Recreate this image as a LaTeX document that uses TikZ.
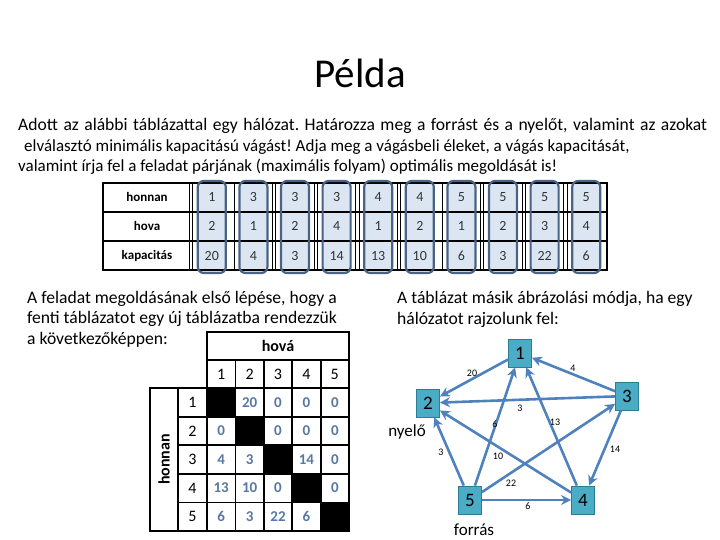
\documentclass[tikz,border=0pt]{standalone}
\usepackage{fontspec}
\setmainfont{Carlito}
\frenchspacing
\usetikzlibrary{arrows.meta}
\definecolor{cedge}{HTML}{4F81BD}
\definecolor{cnode}{HTML}{4BACC6}
\definecolor{cnodeb}{HTML}{2C7D93}
\definecolor{cbox}{HTML}{DCE6F2}
\definecolor{cboxb}{HTML}{4A6384}
\definecolor{cval}{HTML}{5878A3}
\definecolor{cnum}{HTML}{333333}

\begin{document}
\begin{tikzpicture}[x=1pt, y=-1pt,
  ptext/.style={anchor=base west, inner sep=0pt, font=\fontsize{17}{20}\selectfont},
  pside/.style={ptext, font=\fontsize{17.6}{20}\selectfont},
  thead/.style={font=\fontsize{13}{15}\selectfont\bfseries},
  tnum/.style={text=cnum, font=\fontsize{14}{16}\selectfont},
  mnum/.style={font=\fontsize{16}{18}\selectfont},
  mval/.style={text=cval, font=\fontsize{15}{17}\selectfont\bfseries},
  grid/.style={line width=1.8pt},
  gnode/.style={draw=cnodeb, fill=cnode, line width=0.8pt, minimum width=23pt,
    minimum height=28pt, inner sep=0pt, font=\fontsize{19}{21}\selectfont},
  edge/.style={cedge, line width=2.6pt, -{Stealth[length=10pt, width=10pt]}},
  elabel/.style={inner sep=0pt, font=\fontsize{10}{12}\selectfont}]
  \useasboundingbox (0,0) rectangle (720,540);

  % Title and task
  \node[font=\fontsize{41}{46}\selectfont] (title) at (360,73) {Példa};
  \node[ptext, font=\fontsize{17.6}{20}\selectfont] (q1) at (18,131) {\hbox to 689pt{Adott az alábbi táblázattal egy hálózat. Határozza meg a forrást és a nyelőt, valamint az azokat}};
  \node[ptext] (q2) at (24,152) {elválasztó minimális kapacitású vágást! Adja meg a vágásbeli éleket, a vágás kapacitását,};
  \node[ptext] (q3) at (18,172) {valamint írja fel a feladat párjának (maximális folyam) optimális megoldását is!};

  % Edge table
  \foreach \i in {1,...,10}
    \fill[cbox, rounded corners=6pt] ({191+41.6*(\i-0.5)-14},181) rectangle ++(28,92);
  \foreach \k in {0,...,9}
    \draw[line width=0.9pt, double distance=2.4pt] ({191+41.6*\k},183) -- ++(0,87);
  \draw[line width=1.2pt] (103,212) -- (607,212) (103,241) -- (607,241);
  \draw[line width=1.6pt] (103,183) rectangle (607,270);
  \foreach \i in {1,...,10}
    \draw[cboxb, line width=2.2pt, rounded corners=6pt] ({191+41.6*(\i-0.5)-14},181) rectangle ++(28,92);
  \node[thead] (rfrom) at (147,197) {honnan};
  \node[thead] (rto) at (147,226) {hova};
  \node[thead] (rcap) at (147,256) {kapacitás};
  \foreach \a/\b/\k [count=\i] in {1/2/20, 3/1/4, 3/2/3, 3/4/14, 4/1/13, 4/2/10, 5/1/6, 5/2/3, 5/3/22, 5/4/6}{
    \node[tnum] (a\i) at ({191+41.6*(\i-0.5)},197) {\a};
    \node[tnum] (b\i) at ({191+41.6*(\i-0.5)},226) {\b};
    \node[tnum] (k\i) at ({191+41.6*(\i-0.5)},256) {\k};
  }

  % Left text and matrix
  \node[pside] (l1) at (27,303) {A feladat megoldásának első lépése, hogy a};
  \node[pside] (l2) at (27,323) {fenti táblázatot egy új táblázatba rendezzük};
  \node[pside] (l3) at (27,344) {a következőképpen:};

  \foreach \r in {1,...,5}
    \fill ({207+28.4*(\r-1)},{388+28.6*(\r-1)}) rectangle ++(28.4,28.6);
  \draw[grid] (207,332) rectangle (349,388);
  \draw[grid] (207,360) -- (349,360);
  \draw[grid] (150,388) rectangle (349,531);
  \draw[grid] (178,388) -- (178,531) (207,388) -- (207,531);
  \foreach \k in {1,...,4}{
    \draw[grid] ({207+28.4*\k},360) -- ++(0,171);
    \draw[grid] (178,{388+28.6*\k}) -- (349,{388+28.6*\k});
  }
  \node[mnum, font=\fontsize{16}{18}\selectfont\bfseries] (hto) at (278,346) {hová};
  \node[mnum, font=\fontsize{16}{18}\selectfont\bfseries, rotate=90] (hfrom) at (164,459.5) {honnan};
  \foreach \c in {1,...,5}{
    \node[mnum] (h\c) at ({207+28.4*(\c-0.5)},374) {\c};
    \node[mnum] (r\c) at (192.5,{388+28.6*(\c-0.5)}) {\c};
  }
  \foreach \r/\c/\v in {1/2/20, 1/3/0, 1/4/0, 1/5/0,
                        2/1/0, 2/3/0, 2/4/0, 2/5/0,
                        3/1/4, 3/2/3, 3/4/14, 3/5/0,
                        4/1/13, 4/2/10, 4/3/0, 4/5/0,
                        5/1/6, 5/2/3, 5/3/22, 5/4/6}
    \node[mval] (m\r\c) at ({207+28.4*(\c-0.5)},{388+28.6*(\r-0.5)}) {\v};

  % Right text and network
  \node[pside] (g1) at (397,303) {A táblázat másik ábrázolási módja, ha egy};
  \node[pside] (g2) at (397,324) {hálózatot rajzolunk fel:};

  \node[gnode] (n1) at (520,353) {1};
  \node[gnode] (n2) at (428,403) {2};
  \node[gnode] (n3) at (627,396) {3};
  \node[gnode] (n4) at (583,500) {4};
  \node[gnode] (n5) at (470,500) {5};
  \node[font=\fontsize{17}{20}\selectfont] (sink) at (407,432) {nyelő};
  \node[font=\fontsize{17}{20}\selectfont] (source) at (474,530) {forrás};

  \draw[edge] (n1) -- (n2);
  \draw[edge] (n3) -- (n1);
  \draw[edge] (n3) -- (n2);
  \draw[edge] (n3) -- (n4);
  \draw[edge] (n4) -- (n1);
  \draw[edge] (n4) -- (n2);
  \draw[edge] (n5) -- (n1);
  \draw[edge] (n5) -- (n2);
  \draw[edge] (n5) -- (n3);
  \draw[edge] (n5) -- (n4);

  \node[elabel] (e12) at (472,373) {20};
  \node[elabel] (e31) at (573,368) {4};
  \node[elabel] (e32) at (520,408) {3};
  \node[elabel] (e34) at (615,449) {14};
  \node[elabel] (e41) at (555,422) {13};
  \node[elabel] (e42) at (498,456) {10};
  \node[elabel] (e51) at (495,424) {6};
  \node[elabel] (e52) at (441,452) {3};
  \node[elabel] (e53) at (511,483) {22};
  \node[elabel] (e54) at (528,506) {6};
\end{tikzpicture}
\end{document}
